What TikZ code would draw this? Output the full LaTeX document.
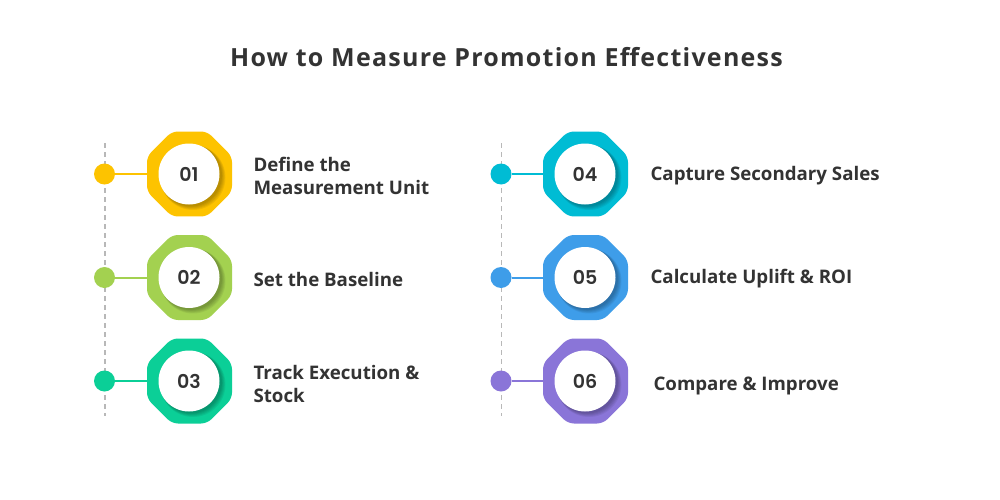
\documentclass[tikz,border=0pt]{standalone}
\usepackage{fontspec}
\setmainfont{Open Sans}
\newfontfamily\titlefont{Open Sans}[LetterSpace=5]
\newfontfamily\numfont{Poppins}[UprightFont=* SemiBold]
\usetikzlibrary{shapes.geometric}
\definecolor{cA}{HTML}{FDC300}
\definecolor{cB}{HTML}{A3D150}
\definecolor{cC}{HTML}{0BCF97}
\definecolor{cD}{HTML}{00BCD4}
\definecolor{cE}{HTML}{3E9DE9}
\definecolor{cF}{HTML}{8A75D8}
\definecolor{txt}{HTML}{333333}
\tikzset{
  octa/.style={regular polygon, regular polygon sides=8, minimum size=92pt, inner sep=0pt, rounded corners=6pt, fill=#1},
  numc/.style={circle, minimum size=61pt, inner sep=0pt, fill=white, text=txt, font=\numfont\fontsize{19}{19}\selectfont},
  dotn/.style={circle, minimum size=21pt, inner sep=0pt, fill=#1},
  link/.style={draw=#1, line width=2pt},
  guide/.style={draw=black!28, line width=1.2pt, dash pattern=on 5pt off 4pt},
  lbl/.style={anchor=west, align=left, text=txt, font=\bfseries\fontsize{18.7}{23}\selectfont},
}
\newcommand\rowitem[6]{% name, x-dot, x-oct, y, colour, number
  \node[dotn=#5] (d#1) at (#2,#4) {};
  \node[octa=#5] (o#1) at (#3,#4) {};
  \begin{scope}[fill=black]
    \foreach \k in {1,...,5}{\fill[opacity=0.06] (#3+1+0.5*\k,#4+1+0.5*\k) circle (30.5+0.4*\k);}
  \end{scope}
  \node[numc] (c#1) at (#3-0.5,#4) {#6};
  \draw[link=#5] (d#1) -- (o#1);
}
\begin{document}
\begin{tikzpicture}[x=1pt,y=-1pt]
\useasboundingbox[fill=white] (0,0) rectangle (1000,500);
\node[text=txt, font=\titlefont\bfseries\fontsize{25}{25}\selectfont] (title) at (506.5,57) {How to Measure Promotion Effectiveness};
\coordinate (gl1) at (105,143); \coordinate (gl2) at (105,416);
\coordinate (gr1) at (501.5,143); \coordinate (gr2) at (501.5,416);
\draw[guide] (gl1) -- (gl2);
\draw[guide] (gr1) -- (gr2);
\rowitem{1}{104.5}{189.5}{174}{cA}{01}
\rowitem{2}{104.5}{189.5}{277.5}{cB}{02}
\rowitem{3}{104.5}{189.5}{381}{cC}{03}
\rowitem{4}{501}{585.5}{174}{cD}{04}
\rowitem{5}{501}{585.5}{277.5}{cE}{05}
\rowitem{6}{501}{585.5}{381}{cF}{06}
\node[lbl] (l1) at (250,176) {Define the\\Measurement Unit};
\node[lbl] (l2) at (250,279) {Set the Baseline};
\node[lbl] (l3) at (250,383.5) {Track Execution \&\\Stock};
\node[lbl] (l4) at (647,175.5) {Capture Secondary Sales};
\node[lbl] (l5) at (647,279) {Calculate Uplift \& ROI};
\node[lbl] (l6) at (650,385.5) {Compare \& Improve};
\end{tikzpicture}
\end{document}
